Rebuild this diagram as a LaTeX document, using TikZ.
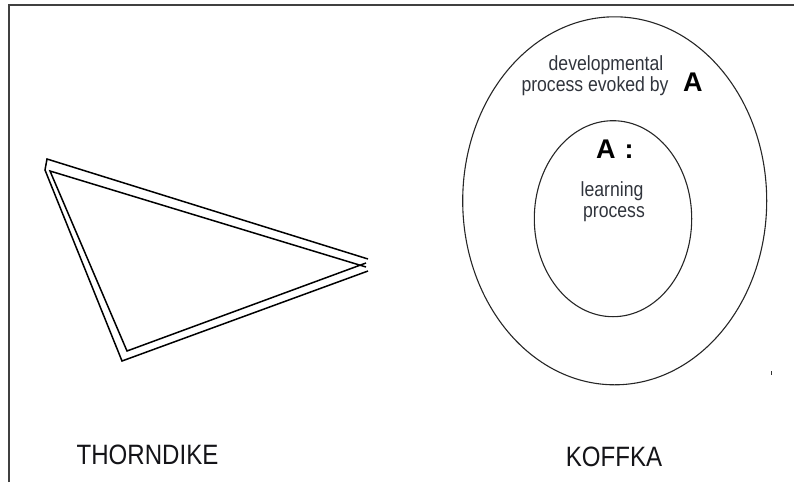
\documentclass[tikz,border=0pt]{standalone}
\usepackage{fontspec}
\setmainfont{Liberation Sans}
\definecolor{framegray}{HTML}{404040}
\definecolor{txtgray}{HTML}{30343C}
\definecolor{txtdark}{HTML}{141418}
\newcommand\cond[1]{\scalebox{0.86}[1]{#1}}
\begin{document}
\begin{tikzpicture}[x=1pt,y=-1pt,
  frameline/.style={draw=framegray,line width=2pt},
  tri/.style={draw=black,line width=1.5pt,line join=miter},
  oval/.style={draw=black!85,line width=1.1pt},
  small/.style={font=\fontsize{20.5}{21}\selectfont,text=txtgray,inner sep=0pt,anchor=base},
  bigA/.style={font=\fontsize{27}{28}\selectfont\bfseries,text=black,inner sep=0pt,anchor=base west},
  title/.style={font=\fontsize{28}{30}\selectfont,text=txtdark,inner sep=0pt,anchor=base}]
\useasboundingbox (0,0) rectangle (794,482);
% frame
\draw[frameline] (9,482) -- (9,5) -- (794,5);
% Thorndike triangle
\draw[tri] (368,259) -- (47,159) -- (45,170) -- (122,361) -- (368,271);
\draw[tri] (366,267) -- (50,171) -- (127,351) -- (366,263);
% Koffka ellipses
\draw[oval] (614.7,200.8) ellipse [x radius=152, y radius=184];
\draw[oval] (613,218.7) ellipse [x radius=78.7, y radius=98];
% texts
\node[small] (dev) at (606,70) {\cond{developmental}};
\node[small] (pev) at (595,91.5) {\cond{process evoked by}};
\node[bigA] (A1) at (683,91.7) {A};
\node[bigA] (A2) at (596,158) {A\hspace{9pt}:};
\node[small] (lea) at (612,196.5) {\cond{learning}};
\node[small] (pro) at (614,217) {\cond{process}};
\node[title] (thor) at (147.5,464) {\cond{THORNDIKE}};
\node[title] (kof) at (614,466.7) {\cond{KOFFKA}};
% small tick
\draw[draw=black!80,line width=1.5pt] (771.7,371) -- (771.7,375);
\end{tikzpicture}
\end{document}
